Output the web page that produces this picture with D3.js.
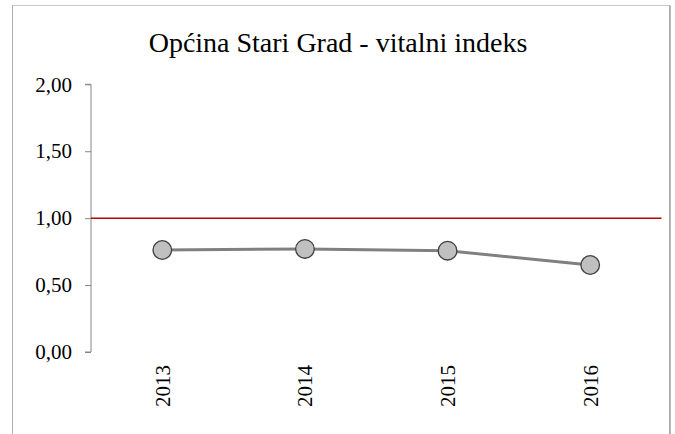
<!DOCTYPE html>
<html><head><meta charset="utf-8">
<script src="https://cdn.jsdelivr.net/npm/d3@7"></script>
<style>html,body{margin:0;padding:0;background:#fff;}svg{display:block;}
text{font-family:"Liberation Serif","Times New Roman",Times,serif;}</style>
</head><body>
<svg id="c" width="675" height="434"></svg>
<script>
const title = "Općina Stari Grad - vitalni indeks";
const years = ["2013", "2014", "2015", "2016"];
const values = [0.762, 0.770, 0.757, 0.650];
const yTicks = [0, 0.5, 1, 1.5, 2];
const refValue = 1.0;

const svg = d3.select("#c");
const W = 675, H = 434;
const m = {left: 91, right: 661.5, top: 84.3, bottom: 352};
const font = '"Liberation Serif", "Times New Roman", Times, serif';

// frame
svg.append("rect").attr("x", 12.5).attr("y", 5.5).attr("width", 657).attr("height", 440)
  .attr("fill", "#fff").attr("stroke", "#c8c8c8").attr("stroke-width", 1);
svg.append("line").attr("x1", 12.5).attr("x2", 12.5).attr("y1", 5.5).attr("y2", H)
  .attr("stroke", "#b0b0b0").attr("stroke-width", 1);
svg.append("line").attr("x1", 670).attr("x2", 670).attr("y1", 5.5).attr("y2", H)
  .attr("stroke", "#a0a0a0").attr("stroke-width", 1.5);

const x = d3.scaleBand().domain(years).range([m.left, m.right]);
const y = d3.scaleLinear().domain([0, 2]).range([m.bottom, m.top]);

// title
svg.append("text").attr("x", 338).attr("y", 52).attr("text-anchor", "middle")
  .style("font-family", font).attr("font-size", 28).attr("fill", "#000").text(title);

// y axis
const yAxis = d3.axisLeft(y).tickValues(yTicks).tickSize(6).tickPadding(13)
  .tickFormat(d => d3.format(".2f")(d).replace(".", ","));
const gy = svg.append("g").attr("transform", `translate(${m.left},0)`).call(yAxis);
gy.attr("font-family", null);
gy.select(".domain").attr("stroke", "#868686").attr("d", `M-6,${m.top}H0V${m.bottom}H-6`);
gy.selectAll(".tick line").attr("stroke", "#868686");
gy.selectAll("text").style("font-family", font).attr("font-size", 21).attr("fill", "#000");

// x axis labels
const xAxis = d3.axisBottom(x).tickSize(0).tickPadding(0);
const gx = svg.append("g").attr("transform", `translate(0,${m.bottom})`).call(xAxis);
gx.attr("font-family", null);
gx.select(".domain").remove();
gx.selectAll("text").style("font-family", font).attr("font-size", 21).attr("fill", "#000")
  .attr("transform", "rotate(-90)").attr("text-anchor", "end")
  .attr("x", -13).attr("y", 0).attr("dy", "0.35em");

// reference line
svg.append("line").attr("x1", m.left).attr("x2", m.right)
  .attr("y1", y(refValue)).attr("y2", y(refValue))
  .attr("stroke", "#c00000").attr("stroke-width", 1.5);

// series line
const line = d3.line().x((d, i) => x(years[i]) + x.bandwidth() / 2).y(d => y(d));
svg.append("path").datum(values).attr("d", line).attr("fill", "none")
  .attr("stroke", "#808080").attr("stroke-width", 3);

svg.selectAll("circle.pt").data(values).enter().append("circle").attr("class", "pt")
  .attr("cx", (d, i) => x(years[i]) + x.bandwidth() / 2).attr("cy", d => y(d))
  .attr("r", 9.3).attr("fill", "#c0c0c0").attr("stroke", "#404040").attr("stroke-width", 1.3);
</script>
</body></html>
